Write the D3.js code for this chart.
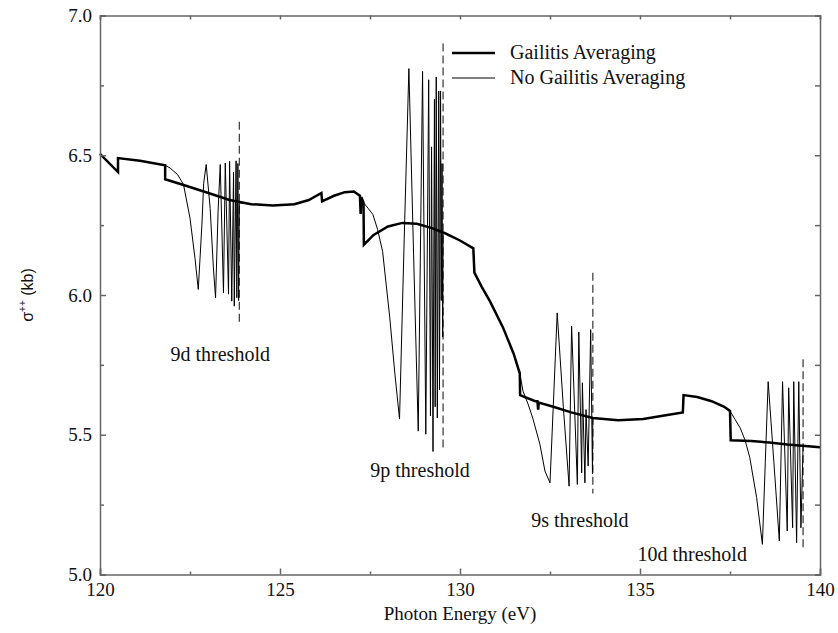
<!DOCTYPE html>
<html>
<head>
<meta charset="utf-8">
<style>
    body { margin: 0; background: #fff; }
    svg { display: block; }
    .axis path, .axis line { stroke: #666; stroke-width: 1.5; }
    .axis text { font-family: "Liberation Serif", "Times New Roman", serif; font-size: 19px; fill: #111; }
    .label { font-family: "Liberation Serif", "Times New Roman", serif; font-size: 20px; fill: #111; }
</style>
</head>
<body>
<svg width="838" height="633"></svg>
<script src="https://d3js.org/d3.v7.min.js"></script>
<script>
    // Gailitis averaged cross section (thick line), photon energy in eV, sigma in kb
    let avgE = [120.0, 120.50, 120.50, 121.11, 121.81, 121.81, 122.41, 123.01, 123.60, 124.20, 124.80, 125.40, 125.80,
        126.15, 126.17, 126.50, 126.80, 127.05, 127.22, 127.24, 127.26, 127.32, 127.33, 127.60, 128.00, 128.40,
        128.80, 129.20, 129.60, 130.00, 130.37, 130.40, 130.60, 130.83, 131.19, 131.49, 131.66, 131.67, 132.09,
        132.15, 132.17, 132.19, 132.59, 133.09, 133.69, 134.39, 135.09, 135.59, 136.19, 136.21, 136.59, 136.99,
        137.34, 137.50, 137.52, 138.09, 138.59, 139.09, 140.0]
    let avgS = [6.505, 6.44, 6.49, 6.48, 6.464, 6.414, 6.39, 6.365, 6.34, 6.325, 6.32, 6.325, 6.34,
        6.365, 6.335, 6.355, 6.368, 6.37, 6.355, 6.29, 6.35, 6.33, 6.18, 6.215, 6.245, 6.258,
        6.255, 6.24, 6.22, 6.195, 6.167, 6.08, 6.03, 5.978, 5.885, 5.79, 5.72, 5.642, 5.62,
        5.62, 5.59, 5.615, 5.6, 5.58, 5.56, 5.552, 5.556, 5.567, 5.58, 5.642, 5.635, 5.62,
        5.6, 5.585, 5.48, 5.478, 5.472, 5.465, 5.455]

    // un-averaged resonance structure below each threshold (thin line)
    let res9dE = [121.81, 121.95, 122.16, 122.32, 122.50, 122.64, 122.73, 122.83, 122.88, 122.95, 123.06, 123.15,
        123.21, 123.28, 123.34, 123.43, 123.48, 123.57, 123.60, 123.66, 123.71, 123.73, 123.78, 123.80, 123.83,
        123.85, 123.87]
    let res9dS = [6.464, 6.454, 6.43, 6.395, 6.275, 6.13, 6.02, 6.25, 6.40, 6.467, 6.31, 6.097,
        5.99, 6.3, 6.467, 6.007, 6.472, 6.003, 6.478, 5.978, 6.44, 5.96, 6.48, 5.99, 6.47,
        5.98, 6.33]
    let res9pE = [127.32, 127.45, 127.58, 127.71, 127.85, 128.05, 128.19, 128.32, 128.45, 128.58, 128.71, 128.84,
        128.96, 129.05, 129.13, 129.18, 129.21, 129.25, 129.29, 129.31, 129.34, 129.37, 129.41, 129.43, 129.46,
        129.48, 129.50, 129.52, 129.53]
    let res9pS = [6.33, 6.31, 6.288, 6.235, 6.156, 5.918, 5.72, 5.556, 6.2, 6.81, 6.15, 5.513,
        6.80, 5.502, 6.77, 5.567, 6.53, 5.44, 6.70, 5.60, 6.78, 5.56, 6.73, 5.66, 6.73,
        5.98, 6.47, 5.85, 6.22]
    let res9sE = [131.66, 131.75, 131.89, 132.02, 132.22, 132.36, 132.50, 132.59, 132.70, 132.87, 133.03, 133.10,
        133.26, 133.30, 133.38, 133.40, 133.47, 133.50, 133.56, 133.63, 133.68, 133.69]
    let res9sS = [5.72, 5.656, 5.61, 5.56, 5.466, 5.37, 5.328, 5.6, 5.936, 5.6, 5.316, 5.888,
        5.322, 5.868, 5.364, 5.686, 5.328, 5.59, 5.388, 5.876, 5.36, 5.56]
    let res10dE = [137.50, 137.64, 137.78, 137.92, 138.05, 138.24, 138.40, 138.48, 138.56, 138.72, 138.87, 138.96,
        139.09, 139.13, 139.24, 139.27, 139.35, 139.41, 139.47, 139.53]
    let res10dS = [5.585, 5.555, 5.525, 5.48, 5.418, 5.275, 5.108, 5.4, 5.69, 5.4, 5.12, 5.69,
        5.156, 5.668, 5.167, 5.69, 5.114, 5.69, 5.167, 5.46]

    // thresholds
    let thrNames = ["9d threshold", "9p threshold", "9s threshold", "10d threshold"]
    let thrE = [123.87, 129.53, 133.69, 139.53]
    let thrTop = [6.62, 6.90, 6.08, 5.77]
    let thrBottom = [5.89, 5.44, 5.29, 5.085]
    let thrLabelE = [123.34, 128.89, 133.33, 136.45]
    let thrLabelS = [5.765, 5.35, 5.17, 5.05]

    let xMajor = [120, 125, 130, 135, 140]
    let xMinor = [122.5, 127.5, 132.5, 137.5]
    let yMajor = [5.0, 5.5, 6.0, 6.5, 7.0]
    let yMinor = [5.25, 5.75, 6.25, 6.75]

    let legendNames = ["Gailitis Averaging", "No Gailitis Averaging"]

    let margin = { top: 15.5, right: 18, bottom: 58.5, left: 100 }
    let width = 838, height = 633

    let svg = d3.select("svg")

    let x = d3.scaleLinear().domain([120, 140]).range([margin.left, width - margin.right])
    let y = d3.scaleLinear().domain([5, 7]).range([height - margin.bottom, margin.top])

    let avg = avgE.map((e, i) => [e, avgS[i]])
    let windows = [
        [res9dE, res9dS], [res9pE, res9pS], [res9sE, res9sS], [res10dE, res10dS]
    ]
    // raw curve = averaged curve outside resonance windows + resonance points inside
    let raw = avg.filter(p => !windows.some(w => p[0] >= w[0][0] && p[0] <= w[0][w[0].length - 1]))
    windows.forEach(w => w[0].forEach((e, i) => raw.push([e, w[1][i]])))
    raw.sort((a, b) => a[0] - b[0])

    let line = d3.line().x(d => x(d[0])).y(d => y(d[1]))

    let plot = svg.append("g")

    // thresholds (dashed)
    plot.selectAll(".thr")
        .data(thrE)
        .join("line")
        .attr("class", "thr")
        .attr("x1", d => x(d)).attr("x2", d => x(d))
        .attr("y1", (d, i) => y(thrTop[i])).attr("y2", (d, i) => y(thrBottom[i]))
        .attr("stroke", "#333")
        .attr("stroke-width", 1.2)
        .attr("stroke-dasharray", "8,4")

    plot.append("path")
        .datum(raw)
        .attr("d", line)
        .attr("fill", "none")
        .attr("stroke", "#000")
        .attr("stroke-width", 1)

    plot.append("path")
        .datum(avg)
        .attr("d", line)
        .attr("fill", "none")
        .attr("stroke", "#000")
        .attr("stroke-width", 2.5)

    plot.selectAll(".thrlabel")
        .data(thrNames)
        .join("text")
        .attr("class", "label thrlabel")
        .attr("x", (d, i) => x(thrLabelE[i]))
        .attr("y", (d, i) => y(thrLabelS[i]))
        .attr("text-anchor", "middle")
        .text(d => d)

    // axes, ticks pointing inward
    let bottom = height - margin.bottom, right = width - margin.right
    svg.append("g").attr("class", "axis")
        .attr("transform", `translate(0,${bottom})`)
        .call(d3.axisBottom(x).tickValues(xMajor).tickSize(-6).tickPadding(8).tickFormat(d3.format("d")))
    svg.append("g").attr("class", "axis")
        .attr("transform", `translate(0,${bottom})`)
        .call(d3.axisBottom(x).tickValues(xMinor).tickSize(-3).tickFormat(""))
        .select(".domain").remove()
    svg.append("g").attr("class", "axis")
        .attr("transform", `translate(0,${margin.top})`)
        .call(d3.axisTop(x).tickValues(xMajor.concat(xMinor)).tickSize(-4).tickFormat(""))
    svg.append("g").attr("class", "axis")
        .attr("transform", `translate(${margin.left},0)`)
        .call(d3.axisLeft(y).tickValues(yMajor).tickSize(-6).tickPadding(8).tickFormat(d3.format(".1f")))
    svg.append("g").attr("class", "axis")
        .attr("transform", `translate(${margin.left},0)`)
        .call(d3.axisLeft(y).tickValues(yMinor).tickSize(-4).tickFormat(""))
        .select(".domain").remove()
    svg.append("g").attr("class", "axis")
        .attr("transform", `translate(${right},0)`)
        .call(d3.axisRight(y).tickValues(yMajor.concat(yMinor)).tickSize(-5).tickFormat(""))

    // axis titles
    svg.append("text")
        .attr("class", "label")
        .attr("x", (margin.left + right) / 2)
        .attr("y", 620)
        .attr("text-anchor", "middle")
        .style("font-size", "19px")
        .text("Photon Energy (eV)")

    let yt = svg.append("text")
        .attr("transform", `translate(33,${(margin.top + bottom) / 2}) rotate(-90)`)
        .attr("text-anchor", "middle")
        .style("font-family", "'Liberation Sans', Arial, sans-serif")
        .style("font-size", "16px")
        .attr("fill", "#111")
    yt.append("tspan").text("σ")
    yt.append("tspan").attr("dy", -7).style("font-size", "10px").text("++")
    yt.append("tspan").attr("dy", 7).text(" (kb)")

    // legend
    let legend = svg.append("g").attr("transform", "translate(452,53)")
    legend.selectAll("line")
        .data(legendNames)
        .join("line")
        .attr("x1", 0).attr("x2", 43)
        .attr("y1", (d, i) => i * 25).attr("y2", (d, i) => i * 25)
        .attr("stroke", "#000")
        .attr("stroke-width", (d, i) => i == 0 ? 2.5 : 1)
    legend.selectAll("text")
        .data(legendNames)
        .join("text")
        .attr("class", "label")
        .attr("x", 58)
        .attr("y", (d, i) => i * 25 + 6)
        .text(d => d)
</script>
</body>
</html>
